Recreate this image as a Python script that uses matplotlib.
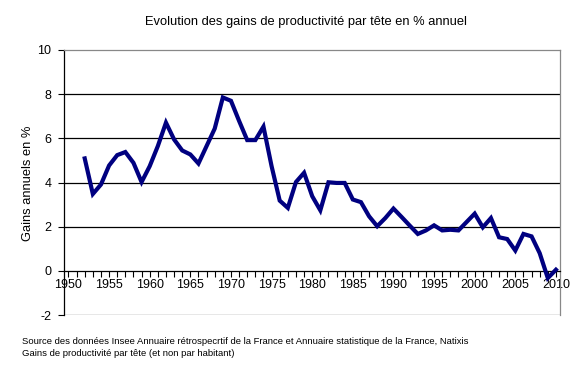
import matplotlib
matplotlib.use("Agg")
import matplotlib.pyplot as plt
import numpy as np

plt.rcParams['font.family'] = ['Liberation Sans', 'DejaVu Sans']

years = list(range(1952, 2011))
gains = [5.09, 3.48, 3.91, 4.77, 5.24, 5.38, 4.89, 4.02, 4.74, 5.65,
         6.71, 5.95, 5.45, 5.27, 4.86, 5.65, 6.44, 7.85, 7.70, 6.79,
         5.92, 5.92, 6.53, 4.74, 3.18, 2.85, 4.02, 4.44, 3.38, 2.74,
         4.01, 3.98, 3.98, 3.23, 3.11, 2.47, 2.02, 2.39, 2.82, 2.44,
         2.05, 1.67, 1.83, 2.06, 1.83, 1.86, 1.83, 2.21, 2.59, 1.97,
         2.39, 1.52, 1.44, 0.92, 1.67, 1.56, 0.80, -0.33, 0.05]
xticks = list(range(1950, 2011, 5))
yticks = [-2, 0, 2, 4, 6, 8, 10]

title = "Evolution des gains de productivité par tête en % annuel"
ylabel = "Gains annuels en %"
notes = ["Source des données Insee Annuaire rétrospecrtif de la France et Annuaire statistique de la France, Natixis",
         "Gains de productivité par tête (et non par habitant)"]

fig = plt.figure(figsize=(5.8, 3.71), dpi=100)
W, H = 580, 371
ax = fig.add_axes([64 / W, 1 - 315 / H, (560 - 64) / W, (315 - 50) / H])

for v in [2, 4, 6, 8]:
    ax.axhline(v, color='black', lw=0.9, zorder=1)
ax.axhline(-2, color='#888888', lw=1.0, zorder=1)

ax.plot(years, gains, color='#000080', lw=3.0, solid_joinstyle='miter', zorder=3)

ax.set_xlim(1949.45, 2010.5)
ax.set_ylim(-2, 10)
ax.set_xticks(xticks)
ax.set_xticks(range(1950, 2011), minor=True)
ax.set_yticks(yticks)
ax.set_yticklabels([str(v) for v in yticks])

ax.spines['bottom'].set_position(('data', 0))
ax.spines['bottom'].set_color('black')
ax.spines['top'].set_color('#888888')
ax.spines['right'].set_color('#888888')
ax.spines['left'].set_color('black')
for s in ax.spines.values():
    s.set_linewidth(0.9)

ax.tick_params(axis='x', which='both', direction='out', length=4, width=0.8,
               labelsize=9, pad=2)
ax.tick_params(axis='y', direction='out', length=4, width=0.8, labelsize=9, pad=5)

fig.text(306 / W, 1 - 22 / H, title, ha='center', va='center', fontsize=9.3)
fig.text(28 / W, 1 - 183 / H, ylabel, ha='center', va='center', rotation=90, fontsize=9.3)
fig.text(22 / W, 1 - 342 / H, notes[0], ha='left', va='center', fontsize=6.8)
fig.text(22 / W, 1 - 353 / H, notes[1], ha='left', va='center', fontsize=6.8)

fig.savefig("out.png", dpi=100)
